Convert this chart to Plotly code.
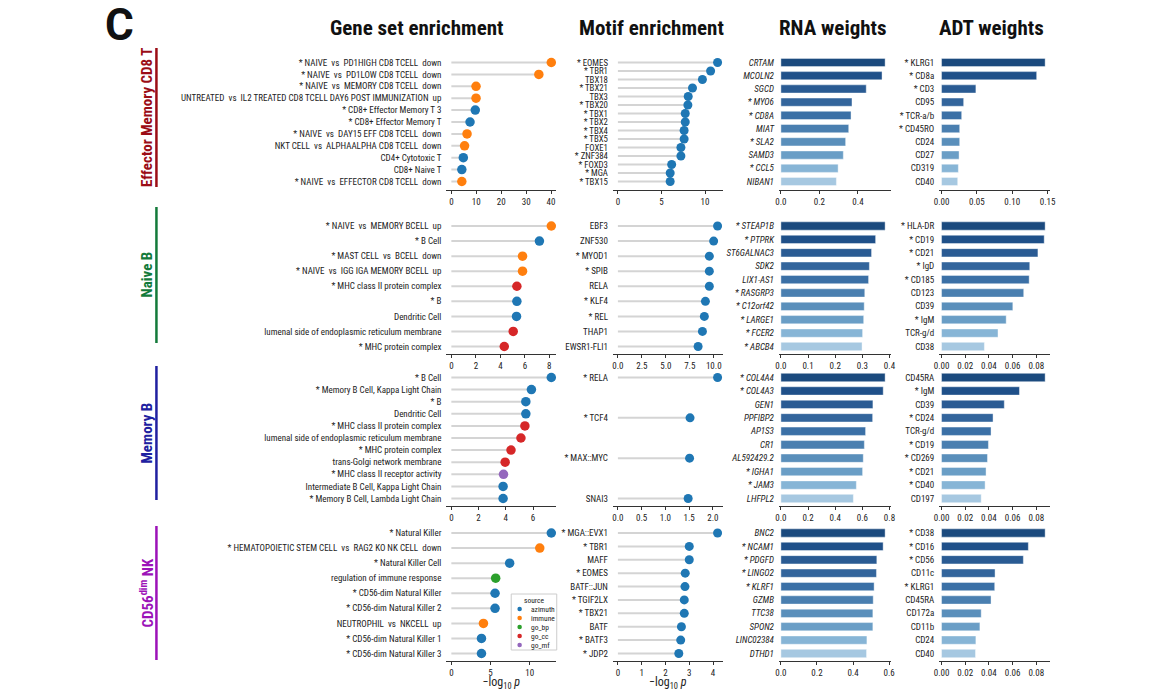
import plotly.graph_objects as go

W, H = 1161, 691

# ---------------- data ----------------
col_titles = ["Gene set enrichment", "Motif enrichment", "RNA weights", "ADT weights"]
row_names = ["Effector Memory CD8 T", "Naive B", "Memory B", "CD56<sup>dim</sup> NK"]
sources = ["azimuth", "immune", "go_bp", "go_cc", "go_mf"]

# Row 1 : Effector Memory CD8 T
gs1_terms = ["* NAIVE  vs  PD1HIGH CD8 TCELL  down", "* NAIVE  vs  PD1LOW CD8 TCELL  down",
             "* NAIVE  vs  MEMORY CD8 TCELL  down",
             "UNTREATED  vs  IL2 TREATED CD8 TCELL DAY6 POST IMMUNIZATION  up",
             "* CD8+ Effector Memory T 3", "* CD8+ Effector Memory T",
             "* NAIVE  vs  DAY15 EFF CD8 TCELL  down", "NKT CELL  vs  ALPHAALPHA CD8 TCELL  down",
             "CD4+ Cytotoxic T", "CD8+ Naive T", "* NAIVE  vs  EFFECTOR CD8 TCELL  down"]
gs1_vals = [40.1, 35.1, 9.9, 9.9, 9.6, 7.5, 6.3, 5.3, 4.8, 4.2, 4.2]
gs1_src = ["immune", "immune", "immune", "immune", "azimuth", "azimuth", "immune", "immune",
           "azimuth", "azimuth", "immune"]
gs1_ticks = [0, 10, 20, 30, 40]
mo1_names = ["* EOMES", "* TBR1", "TBX18", "* TBX21", "TBX3", "* TBX20", "* TBX1", "* TBX2",
             "* TBX4", "* TBX5", "FOXE1", "* ZNF384", "* FOXD3", "* MGA", "* TBX15"]
mo1_vals = [11.44, 10.64, 9.7, 8.56, 8.07, 8.03, 7.73, 7.73, 7.6, 7.6, 7.23, 7.23, 6.17, 6.0, 6.0]
mo1_ticks = [0, 5, 10]
rna1_genes = ["CRTAM", "MCOLN2", "SGCD", "* MYO6", "* CD8A", "MIAT", "* SLA2", "SAMD3", "* CCL5", "NIBAN1"]
rna1_vals = [0.541, 0.525, 0.443, 0.369, 0.364, 0.352, 0.336, 0.324, 0.297, 0.288]
rna1_ticks = [0.0, 0.2, 0.4]
adt1_names = ["* KLRG1", "* CD8a", "* CD3", "CD95", "* TCR-a/b", "* CD45RO", "CD24", "CD27", "CD319", "CD40"]
adt1_vals = [0.1466, 0.1346, 0.0486, 0.0313, 0.0285, 0.0257, 0.0257, 0.0248, 0.0238, 0.0229]
adt1_ticks = [0.0, 0.05, 0.10, 0.15]

# Row 2 : Naive B
gs2_terms = ["* NAIVE  vs  MEMORY BCELL  up", "* B Cell", "* MAST CELL  vs  BCELL  down",
             "* NAIVE  vs  IGG IGA MEMORY BCELL  up", "* MHC class II protein complex", "* B",
             "Dendritic Cell", "lumenal side of endoplasmic reticulum membrane", "* MHC protein complex"]
gs2_vals = [8.16, 7.19, 5.81, 5.81, 5.35, 5.35, 5.32, 5.05, 4.32]
gs2_src = ["immune", "azimuth", "immune", "immune", "go_cc", "azimuth", "azimuth", "go_cc", "go_cc"]
gs2_ticks = [0, 2, 4, 6, 8]
mo2_names = ["EBF3", "ZNF530", "* MYOD1", "* SPIB", "RELA", "* KLF4", "* REL", "THAP1", "EWSR1-FLI1"]
mo2_vals = [10.4, 9.99, 9.54, 9.54, 9.54, 9.13, 9.02, 8.82, 8.37]
mo2_ticks = [0.0, 2.5, 5.0, 7.5, 10.0]
rna2_genes = ["* STEAP1B", "* PTPRK", "ST6GALNAC3", "SDK2", "LIX1-AS1", "* RASGRP3", "* C12orf42",
              "* LARGE1", "* FCER2", "* ABCB4"]
rna2_vals = [0.384, 0.349, 0.334, 0.326, 0.323, 0.309, 0.307, 0.305, 0.301, 0.299]
rna2_ticks = [0.0, 0.1, 0.2, 0.3, 0.4]
adt2_names = ["* HLA-DR", "* CD19", "* CD21", "* IgD", "* CD185", "CD123", "CD39", "* IgM", "TCR-g/d", "CD38"]
adt2_vals = [0.0875, 0.0867, 0.0814, 0.0745, 0.0740, 0.0694, 0.0602, 0.0546, 0.0477, 0.0362]
adt2_ticks = [0.0, 0.02, 0.04, 0.06, 0.08]

# Row 3 : Memory B
gs3_terms = ["* B Cell", "* Memory B Cell, Kappa Light Chain", "* B", "Dendritic Cell",
             "* MHC class II protein complex", "lumenal side of endoplasmic reticulum membrane",
             "* MHC protein complex", "trans-Golgi network membrane", "* MHC class II receptor activity",
             "Intermediate B Cell, Kappa Light Chain", "* Memory B Cell, Lambda Light Chain"]
gs3_vals = [7.34, 5.88, 5.47, 5.47, 5.40, 5.11, 4.38, 3.95, 3.83, 3.80, 3.80]
gs3_src = ["azimuth", "azimuth", "azimuth", "azimuth", "go_cc", "go_cc", "go_cc", "go_cc", "go_mf",
           "azimuth", "azimuth"]
gs3_ticks = [0, 2, 4, 6]
mo3_names = ["* RELA", "* TCF4", "* MAX::MYC", "SNAI3"]
mo3_vals = [2.10, 1.52, 1.51, 1.48]
mo3_ticks = [0.0, 0.5, 1.0, 1.5, 2.0]
rna3_genes = ["* COL4A4", "* COL4A3", "GEN1", "PPFIBP2", "AP1S3", "CR1", "AL592429.2", "* IGHA1", "* JAM3", "LHFPL2"]
rna3_vals = [0.768, 0.754, 0.678, 0.676, 0.624, 0.615, 0.607, 0.602, 0.556, 0.534]
rna3_ticks = [0.0, 0.2, 0.4, 0.6, 0.8]
adt3_names = ["CD45RA", "* IgM", "CD39", "* CD24", "TCR-g/d", "* CD19", "* CD269", "* CD21", "* CD40", "CD197"]
adt3_vals = [0.0875, 0.0658, 0.0530, 0.0435, 0.0418, 0.0396, 0.0388, 0.0376, 0.0368, 0.0335]
adt3_ticks = [0.0, 0.02, 0.04, 0.06, 0.08]

# Row 4 : CD56dim NK
gs4_terms = ["* Natural Killer", "* HEMATOPOIETIC STEM CELL  vs  RAG2 KO NK CELL  down",
             "* Natural Killer Cell", "regulation of immune response", "* CD56-dim Natural Killer",
             "* CD56-dim Natural Killer 2", "NEUTROPHIL  vs  NKCELL  up", "* CD56-dim Natural Killer 1",
             "* CD56-dim Natural Killer 3"]
gs4_vals = [12.74, 11.27, 7.43, 5.65, 5.57, 5.57, 4.09, 3.84, 3.84]
gs4_src = ["azimuth", "immune", "azimuth", "go_bp", "azimuth", "azimuth", "immune", "azimuth", "azimuth"]
gs4_ticks = [0, 5, 10]
mo4_names = ["* MGA::EVX1", "* TBR1", "MAFF", "* EOMES", "BATF::JUN", "* TGIF2LX", "* TBX21",
             "BATF", "* BATF3", "* JDP2"]
mo4_vals = [4.19, 3.0, 3.0, 2.83, 2.82, 2.79, 2.79, 2.67, 2.64, 2.56]
mo4_ticks = [0, 1, 2, 3, 4]
rna4_genes = ["BNC2", "* NCAM1", "* PDGFD", "* LINGO2", "* KLRF1", "GZMB", "TTC38", "SPON2", "LINC02384", "DTHD1"]
rna4_vals = [0.578, 0.567, 0.532, 0.530, 0.517, 0.512, 0.510, 0.510, 0.477, 0.475]
rna4_ticks = [0.0, 0.2, 0.4, 0.6]
adt4_names = ["* CD38", "* CD16", "* CD56", "CD11c", "* KLRG1", "CD45RA", "CD172a", "CD11b", "CD24", "CD40"]
adt4_vals = [0.0875, 0.0733, 0.0691, 0.0452, 0.0449, 0.0418, 0.0335, 0.0324, 0.0290, 0.0287]
adt4_ticks = [0.0, 0.02, 0.04, 0.06, 0.08]

# ---------------- styling ----------------
src_colors = {"azimuth": "#1f77b4", "immune": "#ff7f0e", "go_bp": "#2ca02c",
              "go_cc": "#d62728", "go_mf": "#9467bd"}
bar_palette = ["#1b4a7e", "#1f5089", "#2a5b93", "#33659c", "#3b70a6",
               "#4a7fb0", "#5a8fbb", "#6a9ec6", "#87b5d6", "#a6c8e1"]
row_colors = ["#9b0d16", "#137a3a", "#2020a0", "#9c12b8"]
FONT = "Liberation Sans Narrow, Roboto Condensed, Roboto, sans-serif"
TCOL = "#222222"

# pixel geometry: (left, right, zero-pixel, max-pixel)
col_px = [(445.0, 556.0, 450.0, 551.0),
          (613.3, 724.0, 618.3, 719.0),
          (781.0, 894.0, 783.0, 888.3),
          (943.0, 1055.0, 945.3, 1050.0)]
# (first item px, last item px, axis px)
row_px = [(62.5, 181.5, 190.0), (226.0, 346.5, 354.0), (377.5, 498.5, 506.0), (533.0, 653.5, 661.0)]
tick_fmt = [["d", "d", ".1f", ".2f"], ["d", ".1f", ".1f", ".2f"],
            ["d", ".1f", ".1f", ".2f"], ["d", "d", ".1f", ".2f"]]

panels = [
    [(gs1_terms, gs1_vals, gs1_src, gs1_ticks), (mo1_names, mo1_vals, None, mo1_ticks),
     (rna1_genes, rna1_vals, None, rna1_ticks), (adt1_names, adt1_vals, None, adt1_ticks)],
    [(gs2_terms, gs2_vals, gs2_src, gs2_ticks), (mo2_names, mo2_vals, None, mo2_ticks),
     (rna2_genes, rna2_vals, None, rna2_ticks), (adt2_names, adt2_vals, None, adt2_ticks)],
    [(gs3_terms, gs3_vals, gs3_src, gs3_ticks), (mo3_names, mo3_vals, None, mo3_ticks),
     (rna3_genes, rna3_vals, None, rna3_ticks), (adt3_names, adt3_vals, None, adt3_ticks)],
    [(gs4_terms, gs4_vals, gs4_src, gs4_ticks), (mo4_names, mo4_vals, None, mo4_ticks),
     (rna4_genes, rna4_vals, None, rna4_ticks), (adt4_names, adt4_vals, None, adt4_ticks)],
]

fig = go.Figure()
layout = {}

for r, row in enumerate(panels):
    F, L, A = row_px[r]
    for c, (labels, vals, src, ticks) in enumerate(row):
        k = r * 4 + c + 1
        xa = "x" if k == 1 else f"x{k}"
        ya = "y" if k == 1 else f"y{k}"
        n = len(vals)
        ys = list(range(n))
        m = max(vals)
        left, right, zpx, mpx = col_px[c]
        ppu = (mpx - zpx) / m
        xr = [-(zpx - left) / ppu, (right - zpx) / ppu]
        s = (L - F) / (n - 1) if n > 1 else 10
        T = F - 8
        yr = [(n - 1) + (A - L) / s, -(F - T) / s]

        if c < 2:
            sx, sy = [], []
            for i, v in enumerate(vals):
                sx += [0, v, None]
                sy += [i, i, None]
            fig.add_trace(go.Scatter(x=sx, y=sy, mode="lines", xaxis=xa, yaxis=ya,
                                     line=dict(color="#d4d4d4", width=2), showlegend=False,
                                     hoverinfo="skip"))
            cols = [src_colors[s_] for s_ in src] if src else [src_colors["azimuth"]] * n
            fig.add_trace(go.Scatter(x=vals, y=ys, mode="markers", xaxis=xa, yaxis=ya,
                                     marker=dict(color=cols, size=9.5 if c == 0 else 9, line=dict(width=0)),
                                     showlegend=False))
            ticktext = labels
        else:
            fig.add_trace(go.Bar(x=vals, y=ys, orientation="h", xaxis=xa, yaxis=ya, width=0.62,
                                 marker=dict(color=bar_palette[:n],
                                             line=dict(color="rgba(255,255,255,0.7)", width=0.6)),
                                 showlegend=False))
            ticktext = [f"<i>{t}</i>" for t in labels] if c == 2 else labels

        xkey = "xaxis" if k == 1 else f"xaxis{k}"
        ykey = "yaxis" if k == 1 else f"yaxis{k}"
        layout[xkey] = dict(domain=[left / W, right / W], anchor=ya, range=xr,
                            tickvals=ticks, tickformat=tick_fmt[r][c],
                            showline=True, linecolor="#333", linewidth=1,
                            ticks="outside", ticklen=3, tickcolor="#333",
                            showgrid=False, zeroline=False,
                            tickfont=dict(family=FONT, size=9, color=TCOL))
        layout[ykey] = dict(domain=[1 - A / H, 1 - T / H], anchor=xa, range=yr,
                            tickvals=ys, ticktext=ticktext, showline=False, ticks="",
                            showgrid=False, zeroline=False, ticklabelstandoff=4,
                            tickfont=dict(family=FONT, size=8.8 if (r == 0 and c == 1) else 9,
                                          color=TCOL))
        if r == 3 and c < 2:
            layout[xkey]["title"] = dict(text="\u2212log<sub>10</sub> <i>p</i>", standoff=2,
                                         font=dict(family=FONT, size=12, color=TCOL))

annotations = []
shapes = []
title_cx = [415, 652, 836, 996]
for t, cx in zip(col_titles, title_cx):
    annotations.append(dict(text=t, x=cx / W, y=1 - 28 / H, xref="paper", yref="paper",
                            showarrow=False, xanchor="center", yanchor="middle",
                            font=dict(family=FONT, size=21, color="#111", weight="bold")))
annotations.append(dict(text="C", x=115 / W, y=1 - 25 / H, xref="paper", yref="paper",
                        showarrow=False, xanchor="center", yanchor="middle",
                        font=dict(family="Roboto, sans-serif", size=44, color="#111", weight="bold")))

row_spans = [(48, 187), (207, 343), (366, 500), (526, 660)]
for r, (y0, y1) in enumerate(row_spans):
    annotations.append(dict(text=row_names[r], x=142 / W, y=1 - (y0 + y1) / 2 / H,
                            xref="paper", yref="paper", showarrow=False, textangle=-90,
                            xanchor="center", yanchor="middle",
                            font=dict(family=FONT, size=15, color=row_colors[r], weight="bold")))
    shapes.append(dict(type="line", xref="paper", yref="paper", x0=152 / W, x1=152 / W,
                       y0=1 - y0 / H, y1=1 - y1 / H, line=dict(color=row_colors[r], width=2.5)))

# compact legend box (drawn as layout decorations)
LX0, LX1, LY0, LY1 = 510.5, 556.5, 594.0, 650.0
shapes.append(dict(type="rect", xref="paper", yref="paper", x0=LX0 / W, x1=LX1 / W,
                   y0=1 - LY0 / H, y1=1 - LY1 / H, line=dict(color="#cccccc", width=1),
                   fillcolor="white", layer="above"))
annotations.append(dict(text="source", x=(LX0 + LX1) / 2 / W, y=1 - 600 / H, xref="paper",
                        yref="paper", showarrow=False, xanchor="center", yanchor="middle",
                        font=dict(family=FONT, size=7.5, color=TCOL)))
for j, s_ in enumerate(sources):
    yc = 609 + j * 9
    shapes.append(dict(type="circle", xref="paper", yref="paper",
                       x0=(519 - 2.3) / W, x1=(519 + 2.3) / W, y0=1 - (yc - 2.3) / H, y1=1 - (yc + 2.3) / H,
                       fillcolor=src_colors[s_], line=dict(width=0), layer="above"))
    annotations.append(dict(text=s_, x=528 / W, y=1 - yc / H, xref="paper", yref="paper",
                            showarrow=False, xanchor="left", yanchor="middle",
                            font=dict(family=FONT, size=7.5, color=TCOL)))

fig.update_layout(**layout)
fig.update_layout(width=W, height=H, autosize=False, margin=dict(l=0, r=0, t=0, b=0),
                  paper_bgcolor="white", plot_bgcolor="white", showlegend=False,
                  annotations=annotations, shapes=shapes)

fig.write_html("out.html", config={"displayModeBar": False},
               post_script="document.body.style.margin='0px';"
                           "document.documentElement.style.overflow='hidden';")
